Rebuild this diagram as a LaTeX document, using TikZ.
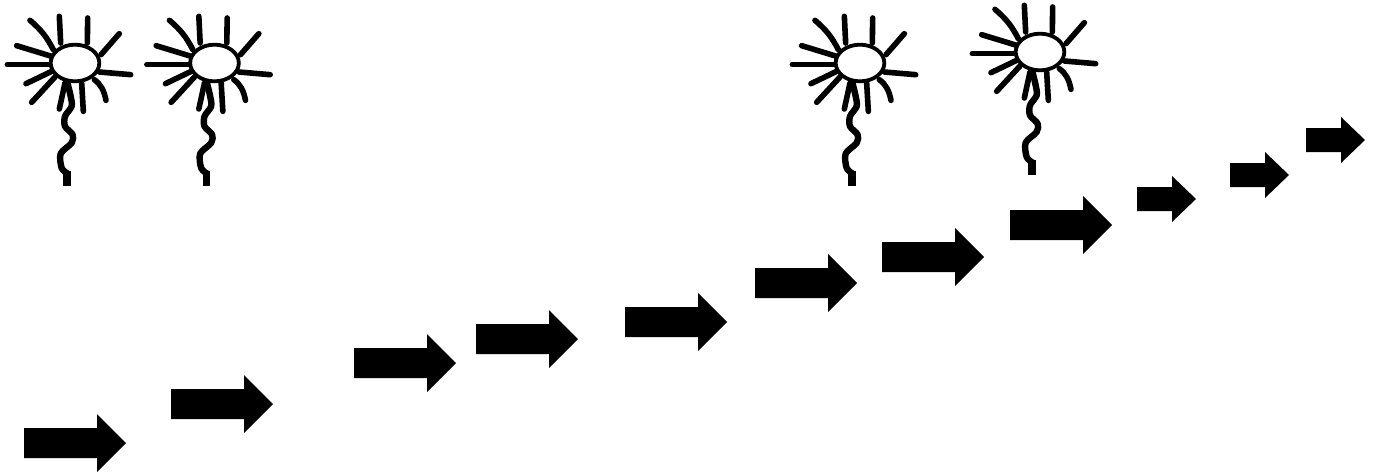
\documentclass[tikz,border=0pt]{standalone}
\tikzset{
  dend/.style={line width=5.6pt,line cap=round,line join=round,black},
  axonline/.style={line width=6.4pt,line join=round,black},
  soma/.style={draw=black,fill=white,line width=3.8pt},
  pics/neuron/.style={code={
    \begin{scope}[x=.3333pt,y=-.3333pt,shift={(-225,-190)}]
      \draw[dend] (160,150) .. controls (140,112) and (125,92) .. (90,62);
      \draw[dend] (182,130) -- (178,50);
      \draw[dend] (262,130) -- (263,55);
      \draw[dend] (303,165) -- (358,102);
      \draw[dend] (298,217) -- (392,225);
      \draw[dend] (283,240) .. controls (303,255) and (312,272) .. (318,302);
      \draw[dend] (245,250) -- (250,335);
      \draw[dend] (195,250) -- (178,328);
      \draw[dend] (165,232) -- (95,308);
      \draw[dend] (155,215) -- (78,252);
      \draw[dend] (152,195) -- (22,195);
      \draw[dend] (155,170) -- (50,138);
      \draw[axonline] plot[smooth,tension=.5] coordinates {(200,240) (212,290) (215,320) (195,350) (195,380) (218,405) (215,430) (182,462) (185,505) (203,522)};
      \fill[black] (190,515) rectangle (212,560);
      \draw[soma] (225,190) ellipse (73 and 55);
    \end{scope}
  }},
  pics/bigarrow/.style={code={
    \fill[black] (0,-15) -- (73,-15) -- (73,-29) -- (102,0) -- (73,29) -- (73,15) -- (0,15) -- cycle;
  }},
  pics/smallarrow/.style={code={
    \fill[black] (0,-12) -- (35,-12) -- (35,-23) -- (59,0) -- (35,23) -- (35,12) -- (0,12) -- cycle;
  }}
}
\begin{document}
\begin{tikzpicture}[x=1pt,y=-1pt]
  \useasboundingbox (0,0) rectangle (1374,472);
  \pic at (75,63) {neuron};
  \pic at (214.5,63) {neuron};
  \pic at (860,63) {neuron};
  \pic at (1040,52) {neuron};
  \foreach \px/\py in {24/443,171/404,354/363,476/339,625/322,755/283,882/257,1010/225}
    \pic at (\px,\py) {bigarrow};
  \foreach \px/\py in {1137/199,1230/175,1306/140}
    \pic at (\px,\py) {smallarrow};
\end{tikzpicture}
\end{document}
